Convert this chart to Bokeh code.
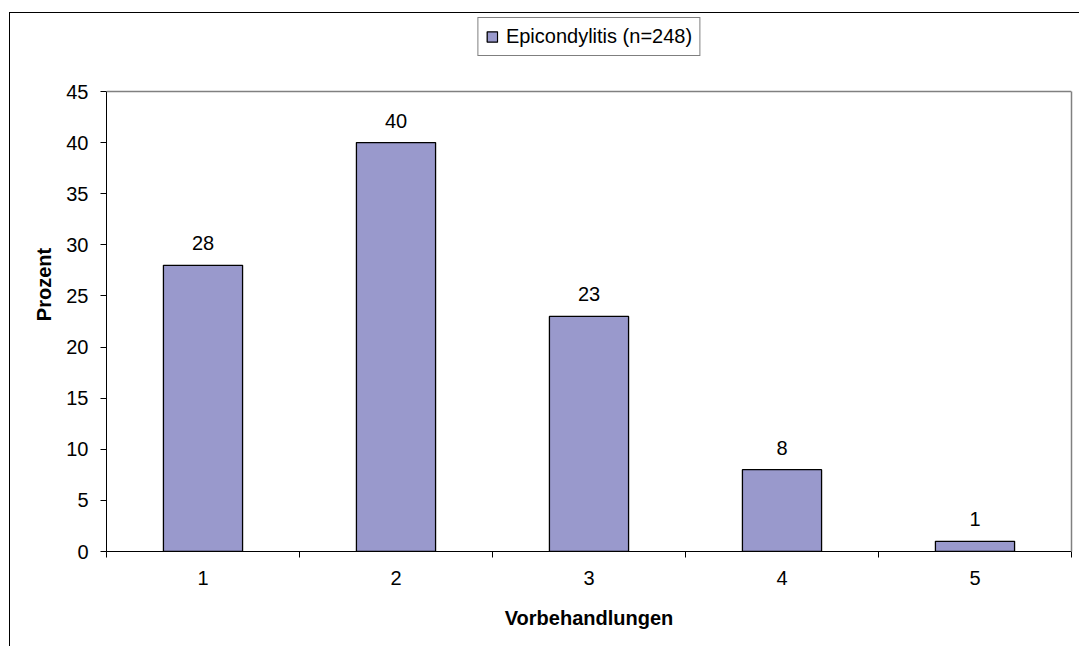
from bokeh.plotting import figure
from bokeh.models import (ColumnDataSource, FixedTicker, Legend, LegendItem, Range1d,
                          LabelSet, LinearAxis, Span)
from bokeh.core.properties import value
from bokeh.embed import file_html
from bokeh.resources import INLINE

categories = [1, 2, 3, 4, 5]
values = [28, 40, 23, 8, 1]
labels = ["28", "40", "23", "8", "1"]
series_name = "Epicondylitis (n=248)"
y_ticks = [0, 5, 10, 15, 20, 25, 30, 35, 40, 45]

FONT = "Liberation Sans"
BAR = "#9999CC"
FS = "20px"

# frame pixel layout: data area (0..45) is 460px high; frame extends up to host the legend
W, H = 1070, 634
MB_L, MB_T, MB_R, MB_B = 96, 4, 9, 96
frame_h = H - MB_T - MB_B
data_h = 460
y_max = y_ticks[-1]
y_end = y_max * frame_h / data_h

src = ColumnDataSource(dict(x=categories, top=values, lab=labels))

p = figure(width=W, height=H, output_backend="svg", toolbar_location=None,
           x_range=Range1d(categories[0] - 0.5, categories[-1] + 0.5),
           y_range=Range1d(0, y_end),
           min_border_left=MB_L, min_border_top=MB_T, min_border_right=MB_R,
           min_border_bottom=MB_B)
p.styles = {"margin-left": "9px", "margin-top": "12px",
            "border-left": "1px solid black", "border-top": "1px solid black"}

r = p.vbar(x="x", top="top", width=0.41, bottom=0, source=src,
           fill_color=BAR, line_color="black", line_width=1.3)

p.add_layout(LabelSet(x="x", y="top", text="lab", source=src, text_align="center",
                      text_baseline="alphabetic", y_offset=15, text_font=value(FONT),
                      text_font_size=FS, text_color="black"))

p.xgrid.visible = False
p.ygrid.visible = False
p.outline_line_color = None

# plot-area border (gray) on top and right
p.add_layout(Span(location=y_max, dimension="width", line_color="#808080", line_width=1.5))
ra = LinearAxis(bounds=(0, y_max), ticker=FixedTicker(ticks=[]), axis_line_color="#808080",
                axis_line_width=1.5, major_tick_out=0, major_tick_in=0, minor_tick_out=0,
                minor_tick_in=0, major_label_text_font_size="0px")
p.add_layout(ra, "right")

xa = p.xaxis[0]
xa.ticker = FixedTicker(ticks=categories,
                        minor_ticks=[c - 0.5 for c in categories] + [categories[-1] + 0.5])
xa.major_tick_out = 0
xa.major_tick_in = 0
xa.minor_tick_out = 6
xa.minor_tick_in = 0
xa.minor_tick_line_color = "black"
xa.axis_line_color = "black"
xa.major_label_text_font = FONT
xa.major_label_text_font_size = FS
xa.major_label_text_color = "black"
xa.major_label_standoff = 13
xa.axis_label = "Vorbehandlungen"
xa.axis_label_text_font = FONT
xa.axis_label_text_font_size = FS
xa.axis_label_text_font_style = "bold"
xa.axis_label_text_color = "black"
xa.axis_label_standoff = 19

ya = p.yaxis[0]
ya.bounds = (0, y_max)
ya.ticker = FixedTicker(ticks=y_ticks)
ya.major_tick_out = 6
ya.major_tick_in = 0
ya.minor_tick_out = 0
ya.minor_tick_in = 0
ya.axis_line_color = "black"
ya.major_tick_line_color = "black"
ya.major_label_text_font = FONT
ya.major_label_text_font_size = FS
ya.major_label_text_color = "black"
ya.major_label_standoff = 12
ya.axis_label = "Prozent"
ya.axis_label_text_font = FONT
ya.axis_label_text_font_size = FS
ya.axis_label_text_font_style = "bold"
ya.axis_label_text_color = "black"
ya.axis_label_standoff = 8

legend = Legend(items=[LegendItem(label=series_name, renderers=[r])],
                location="top_center", orientation="horizontal",
                border_line_color="black", border_line_width=1,
                background_fill_color="white", background_fill_alpha=1,
                label_text_font=FONT, label_text_font_size=FS,
                label_text_color="black", glyph_width=13, glyph_height=13,
                padding=7, margin=0, label_standoff=8, spacing=0)
p.add_layout(legend, "center")

open("out.html", "w").write(file_html(p, INLINE))
